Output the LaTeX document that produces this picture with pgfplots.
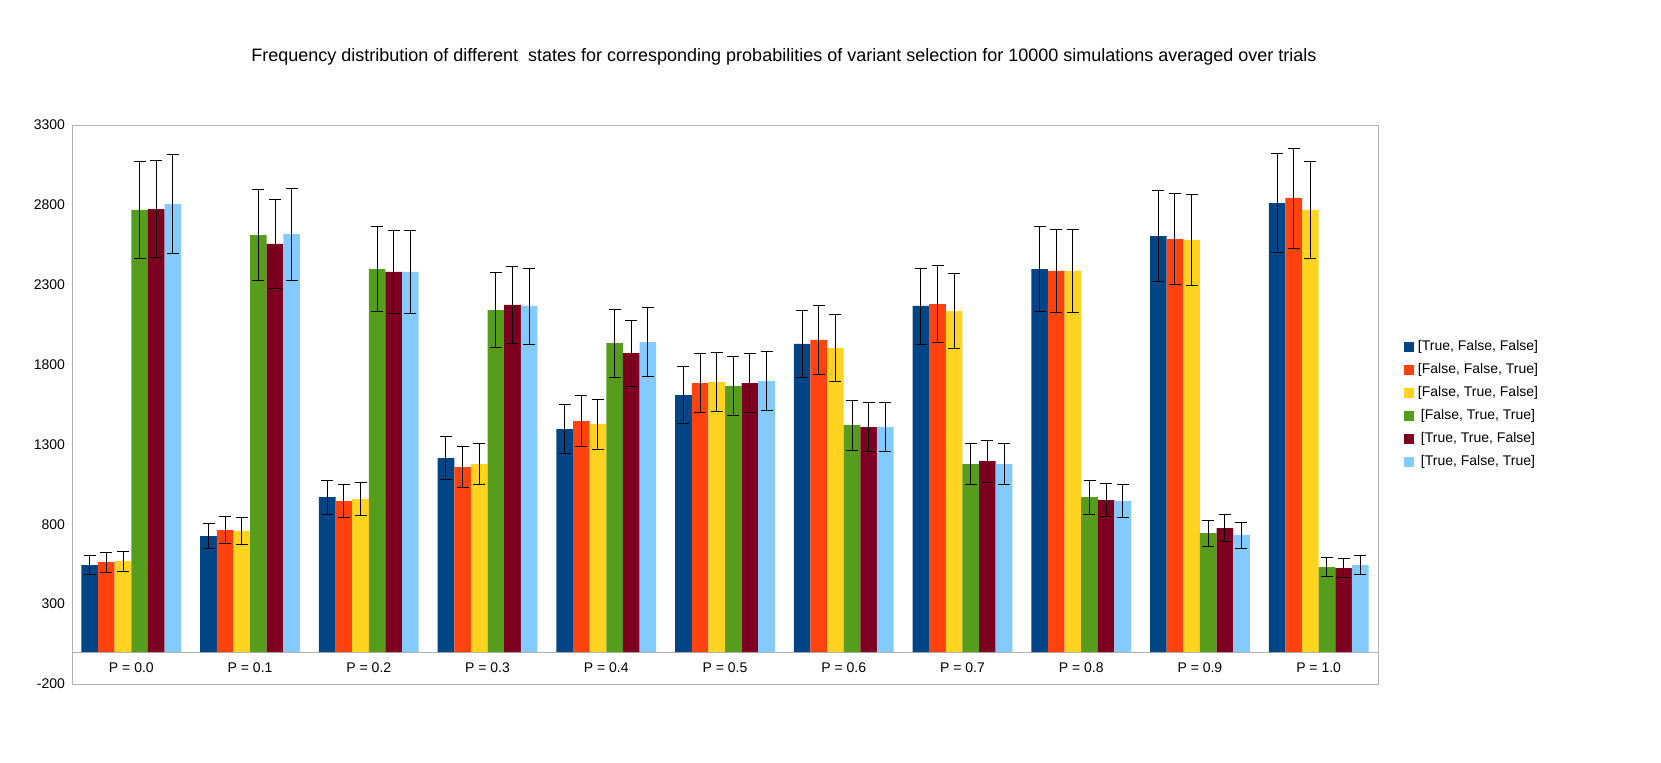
\documentclass[border=0pt]{standalone}
\usepackage{pgfplots}
\pgfplotsset{compat=1.18}
\usepackage{pgfplotstable}
\usepackage{fontspec}
\setmainfont{Liberation Sans}
\definecolor{c1}{HTML}{004586}
\definecolor{c2}{HTML}{FF420E}
\definecolor{c3}{HTML}{FFD320}
\definecolor{c4}{HTML}{579D1C}
\definecolor{c5}{HTML}{7E0021}
\definecolor{c6}{HTML}{83CAFF}
\pgfplotstableread{
x a ea b eb c ec d ed e ee f ef
0 545 60 563 62 570 63 2768 305 2774 305 2805 310
1 726 80 764 84 758 83 2611 287 2555 281 2617 288
2 970 107 945 104 958 105 2398 264 2380 262 2380 262
3 1215 134 1158 127 1177 129 2141 235 2173 239 2167 238
4 1396 154 1446 159 1428 157 1935 213 1872 206 1941 214
5 1609 177 1684 185 1691 186 1666 183 1684 185 1697 187
6 1929 212 1954 215 1904 209 1421 156 1409 155 1409 155
7 2167 238 2179 240 2135 235 1177 129 1196 132 1177 129
8 2398 264 2386 262 2386 262 970 107 952 105 945 104
9 2605 287 2586 285 2580 284 745 82 776 85 733 81
10 2811 309 2843 313 2768 305 532 59 526 58 545 60
}\data
\begin{document}
\begin{tikzpicture}
\path (0,0) rectangle (830.5pt,381pt);
\node[font=\fontsize{9pt}{10pt}\selectfont] at (392pt,352.5pt) {Frequency distribution of different\ \ states for corresponding probabilities of variant selection for 10000 simulations averaged over trials};
\begin{axis}[at={(36pt,39pt)}, anchor=south west, scale only axis,
  width=653pt, height=279.5pt,
  xmin=-0.5, xmax=10.5, ymin=-200, ymax=3300,
  ybar=0pt, bar width=0.14,
  axis line style={gray!60}, tick style={draw=none},
  xtick=\empty, minor xtick={0.5,1.5,...,9.5},
  minor grid style={gray!60}, xminorgrids,
  ytick={-200,300,...,3300},
  yticklabel style={font=\fontsize{7pt}{8pt}\selectfont},
  /pgf/number format/assume math mode=true,
  /pgf/number format/1000 sep={},
  error bars/error bar style={black, line width=0.5pt},
  error bars/error mark options={black, rotate=90, mark size=3pt},
  legend style={at={(1.015,0.5)}, anchor=west, draw=none, font=\fontsize{7pt}{8pt}\selectfont, row sep=1pt},
  legend image code/.code={\fill[#1] (0pt,-2.5pt) rectangle (5pt,2.5pt);},
  clip=false]
\draw[gray!60] (axis cs:-0.5,0) -- (axis cs:10.5,0);
\addplot[fill=c1, draw=none, error bars/.cd, y dir=both, y explicit] table[x=x,y=a,y error=ea]{\data};
\addlegendentry{\relax[True, False, False]}
\addplot[fill=c2, draw=none, error bars/.cd, y dir=both, y explicit] table[x=x,y=b,y error=eb]{\data};
\addlegendentry{\relax[False, False, True]}
\addplot[fill=c3, draw=none, error bars/.cd, y dir=both, y explicit] table[x=x,y=c,y error=ec]{\data};
\addlegendentry{\relax[False, True, False]}
\addplot[fill=c4, draw=none, error bars/.cd, y dir=both, y explicit] table[x=x,y=d,y error=ed]{\data};
\addlegendentry{\relax[False, True, True]}
\addplot[fill=c5, draw=none, error bars/.cd, y dir=both, y explicit] table[x=x,y=e,y error=ee]{\data};
\addlegendentry{\relax[True, True, False]}
\addplot[fill=c6, draw=none, error bars/.cd, y dir=both, y explicit] table[x=x,y=f,y error=ef]{\data};
\addlegendentry{\relax[True, False, True]}
\pgfplotsinvokeforeach{0,...,10}{
  \node[font=\fontsize{7pt}{8pt}\selectfont] at (axis cs:#1,-100) {P = \pgfmathparse{#1/10}\pgfmathprintnumber[fixed,precision=1,fixed zerofill]{\pgfmathresult}};
}
\end{axis}
\end{tikzpicture}
\end{document}
